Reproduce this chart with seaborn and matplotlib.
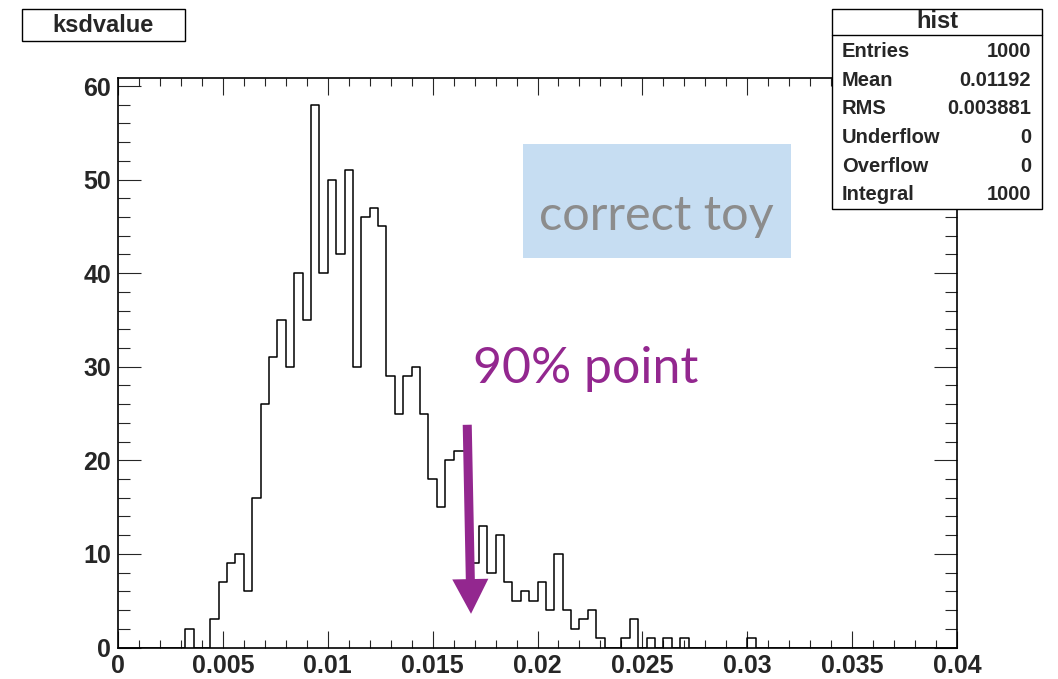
import numpy as np
import pandas as pd
import matplotlib
matplotlib.use("Agg")
import matplotlib.pyplot as plt
from matplotlib.patches import Rectangle
from matplotlib.lines import Line2D
import seaborn as sns

# ---- histogram content: 100 bins over [0, 0.04] ----
x_min, x_max, n_bins = 0.0, 0.04, 100
counts = [
    0, 0, 0, 0, 0, 0, 0, 0, 2, 0,
    0, 3, 7, 9, 10, 6, 16, 26, 31, 35,
    30, 40, 35, 58, 40, 50, 42, 51, 30, 46,
    47, 45, 29, 25, 29, 30, 25, 18, 15, 20,
    21, 21, 9, 13, 8, 12, 7, 5, 6, 5,
    7, 4, 10, 4, 2, 3, 4, 1, 0, 0,
    1, 3, 0, 1, 0, 1, 0, 1, 0, 0,
    0, 0, 0, 0, 0, 1, 0, 0, 0, 0,
    0, 0, 0, 0, 0, 0, 0, 0, 0, 0,
    0, 0, 0, 0, 0, 0, 0, 0, 0, 0,
]

# statistics box
stat_title = "hist"
stat_names = ["Entries", "Mean", "RMS", "Underflow", "Overflow", "Integral"]
stat_values = ["1000", "0.01192", "0.003881", "0", "0", "1000"]

hist_title = "ksdvalue"
x_ticks = [0, 0.005, 0.01, 0.015, 0.02, 0.025, 0.03, 0.035, 0.04]
x_tick_labels = ["0", "0.005", "0.01", "0.015", "0.02", "0.025", "0.03", "0.035", "0.04"]
y_ticks = [0, 10, 20, 30, 40, 50, 60]

# annotations
marker_label = "90% point"
marker_from = (0.01665, 23.8)
marker_to = (0.01683, 3.6)
toy_label = "correct toy"

W, H = 1058, 679
sns.set_style("white")
plt.rcParams["font.family"] = ["Liberation Sans", "DejaVu Sans"]
plt.rcParams["font.weight"] = "bold"

fig = plt.figure(figsize=(W / 100, H / 100), dpi=100)
fig.patch.set_facecolor("white")

left, right, top, bottom = 118, 957, 77.6, 647.5
ax = fig.add_axes([left / W, 1 - bottom / H, (right - left) / W, (bottom - top) / H])

bin_width = (x_max - x_min) / n_bins
centers = x_min + bin_width * (np.arange(n_bins) + 0.5)
df = pd.DataFrame({"ksdvalue": centers, "n": counts})

sns.histplot(data=df, x="ksdvalue", weights="n", bins=n_bins, binrange=(x_min, x_max),
             element="step", fill=False, color="black", linewidth=1.1, ax=ax)

ax.set_xlim(x_min, x_max)
ax.set_ylim(0, 60.9)
ax.set_xlabel("")
ax.set_ylabel("")

ax.set_xticks(x_ticks)
ax.set_xticklabels(x_tick_labels)
ax.set_xticks(np.arange(0, 0.0401, 0.001), minor=True)
ax.set_yticks(y_ticks)
ax.set_yticks(np.arange(0, 61, 2), minor=True)

ax.tick_params(axis="x", which="major", direction="in", length=12, width=0.8,
               top=True, bottom=True, labelsize=18, pad=5)
ax.tick_params(axis="x", which="minor", direction="in", length=6, width=0.8,
               top=True, bottom=True)
ax.tick_params(axis="y", which="major", direction="in", length=16.5, width=0.8,
               left=True, right=True, labelsize=18, pad=5)
ax.tick_params(axis="y", which="minor", direction="in", length=8.5, width=0.8,
               left=True, right=True)
for lab in ax.get_xticklabels() + ax.get_yticklabels():
    lab.set_fontweight("bold")
for sp in ax.spines.values():
    sp.set_visible(True)
    sp.set_linewidth(1.2)
    sp.set_color("black")


def fx(px):
    return px / W


def fy(py):
    return 1 - py / H


# purple arrow
purple = "#93278f"
ax.annotate("", xy=marker_to, xytext=marker_from,
            arrowprops=dict(arrowstyle="simple,head_length=0.5,head_width=0.52,tail_width=0.13",
                            mutation_scale=50, facecolor=purple, edgecolor="none",
                            shrinkA=0, shrinkB=0))

# light blue label box
fig.patches.append(Rectangle((fx(523), fy(258)), fx(791) - fx(523), fy(144) - fy(258),
                             transform=fig.transFigure, facecolor="#c6ddf2",
                             edgecolor="none", zorder=2))
fig.text(fx(656), fy(230), toy_label, ha="center", va="baseline", fontsize=35,
         color="#8c8c8c", family=["Lato", "DejaVu Sans"], fontweight="normal", zorder=3)
fig.text(fx(473), fy(383), marker_label, ha="left", va="baseline", fontsize=36,
         color=purple, family=["Lato", "DejaVu Sans"], fontweight="normal", zorder=3)

# title box
fig.patches.append(Rectangle((fx(22), fy(41)), fx(185) - fx(22), fy(9) - fy(41),
                             transform=fig.transFigure, facecolor="white",
                             edgecolor="black", linewidth=1.0, zorder=5))
fig.text(fx(103.5), fy(25), hist_title, ha="center", va="center", fontsize=17,
         fontweight="bold", zorder=6)

# statistics box
fig.patches.append(Rectangle((fx(832), fy(209)), fx(1042) - fx(832), fy(9) - fy(209),
                             transform=fig.transFigure, facecolor="white",
                             edgecolor="black", linewidth=1.0, zorder=5))
fig.lines.append(Line2D([fx(832), fx(1042)], [fy(35), fy(35)],
                        transform=fig.transFigure, color="black", linewidth=1.0, zorder=6))
fig.text(fx(937), fy(22), stat_title, ha="center", va="center", fontsize=17,
         fontweight="bold", zorder=6)
row_y = [51.7, 80.5, 109, 137.5, 166, 194.5]
for name, val, ry in zip(stat_names, stat_values, row_y):
    fig.text(fx(842), fy(ry), name, ha="left", va="center", fontsize=14.5,
             fontweight="bold", zorder=6)
    fig.text(fx(1031), fy(ry), val, ha="right", va="center", fontsize=14.5,
             fontweight="bold", zorder=6)

fig.savefig("out.png", dpi=100)
